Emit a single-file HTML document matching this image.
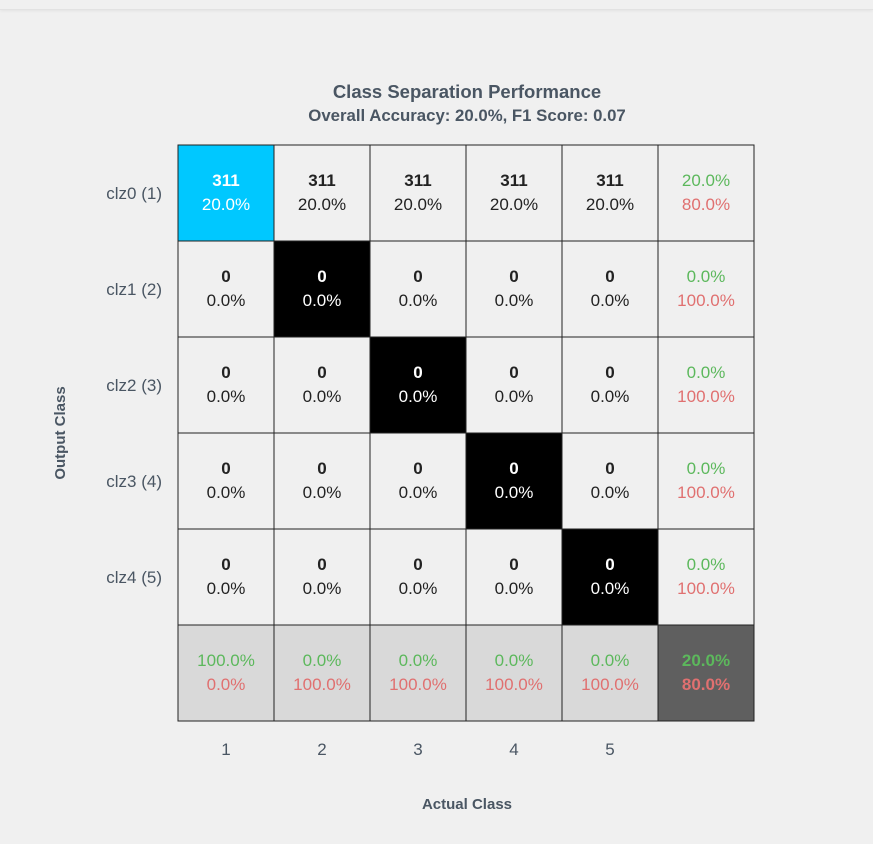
<!DOCTYPE html>
<html><head><meta charset="utf-8"><style>
body{margin:0;width:873px;height:844px;background:#f0f0f0;font-family:"Liberation Sans",Arial,sans-serif;overflow:hidden;position:relative}
#topbar{position:absolute;left:0;top:0;width:873px;height:9px;background:#f0f0f0;border-bottom:1px solid #e2e2e2;box-shadow:0 1px 3px rgba(0,0,0,0.06)}
svg{position:absolute;left:0;top:0}
</style></head><body>
<div id="topbar"></div>
<svg id="chart" width="873" height="844">
<text x="467" y="98" text-anchor="middle" font-size="18.5" font-weight="bold" fill="#4a5663">Class Separation Performance</text>
<text x="467" y="121" text-anchor="middle" font-size="16.8" font-weight="bold" fill="#4a5663">Overall Accuracy: 20.0%, F1 Score: 0.07</text>
<text x="467" y="809" text-anchor="middle" font-size="15" font-weight="bold" fill="#4a5663">Actual Class</text>
<text transform="translate(65,433) rotate(-90)" text-anchor="middle" font-size="15" font-weight="bold" fill="#4a5663">Output Class</text>
<g id="cells"></g>
</svg>
<script>
const rowLabels=["clz0 (1)","clz1 (2)","clz2 (3)","clz3 (4)","clz4 (5)"];
const colLabels=["1","2","3","4","5"];
const counts=[[311,311,311,311,311],[0,0,0,0,0],[0,0,0,0,0],[0,0,0,0,0],[0,0,0,0,0]];
const total=1555;
const x0=178,y0=145,cs=96;
const NS="http://www.w3.org/2000/svg";
const g=document.getElementById('cells');
const svg=document.getElementById('chart');
function mk(t,a,p){const e=document.createElementNS(NS,t);for(const k in a)e.setAttribute(k,a[k]);(p||g).appendChild(e);return e;}
function pct(v){return (v*100).toFixed(1)+'%';}
const n=counts.length;
const green="#5cb85c",red="#e07070";
function cell(r,c,fill,name){const e=mk('rect',{x:x0+c*cs,y:y0+r*cs,width:cs,height:cs,fill:fill,stroke:'#222','stroke-width':1});

}
function txt(r,c,dy,s,col,bold,name){const e=mk('text',{x:x0+c*cs+cs/2,y:y0+r*cs+cs/2+dy,'text-anchor':'middle','font-size':17,fill:col,'font-weight':bold?'bold':'normal'});e.textContent=s;

}
for(let r=0;r<n;r++){for(let c=0;c<n;c++){const v=counts[r][c];const diag=r===c;
let fill='#f0f0f0',tc='#222';if(diag){fill=v>0?'#00c8ff':'#000000';tc='#fff';}
cell(r,c,fill,'cell-r'+r+'-c'+c);
txt(r,c,-7,String(v),tc,true,'cell-count-r'+r+'-c'+c);
txt(r,c,17,pct(v/total),tc,false,'cell-percent-r'+r+'-c'+c);}
const rs=counts[r].reduce((a,b)=>a+b,0);const p=rs?counts[r][r]/rs:0;
cell(r,n,'#f0f0f0','row-summary-'+r);
txt(r,n,-7,pct(p),green,false,'row-precision-'+r);
txt(r,n,17,pct(1-p),red,false,'row-error-'+r);
const l=mk('text',{x:162,y:y0+r*cs+cs/2+6,'text-anchor':'end','font-size':17,fill:'#4a5663'},svg);l.textContent=rowLabels[r];

}
let diagSum=0;
for(let c=0;c<n;c++){let cs2=0;for(let r=0;r<n;r++)cs2+=counts[r][c];diagSum+=counts[c][c];const p=cs2?counts[c][c]/cs2:0;
cell(n,c,'#d9d9d9','col-summary-'+c);
txt(n,c,-7,pct(p),green,false,'col-recall-'+c);
txt(n,c,17,pct(1-p),red,false,'col-error-'+c);
const l=mk('text',{x:x0+c*cs+cs/2,y:755,'text-anchor':'middle','font-size':17,fill:'#4a5663'},svg);l.textContent=colLabels[c];

}
const acc=diagSum/total;
cell(n,n,'#5f5f5f','overall-summary');
txt(n,n,-7,pct(acc),green,true,'overall-accuracy');
txt(n,n,17,pct(1-acc),red,true,'overall-error');
</script>
</body></html>
